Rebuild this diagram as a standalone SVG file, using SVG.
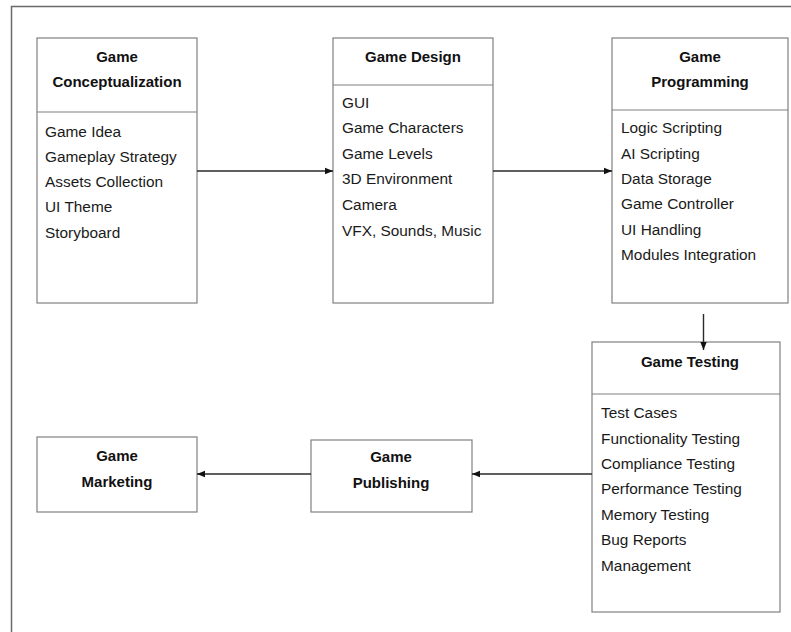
<svg xmlns="http://www.w3.org/2000/svg" width="791" height="632" viewBox="0 0 791 632">
  <style>
    .box { fill: #ffffff; stroke: #808080; stroke-width: 1.2; }
    .div { stroke: #808080; stroke-width: 1.2; }
    .frame { fill: none; stroke: #6a6a6a; stroke-width: 1.5; }
    .title { font-family: "Liberation Sans", Arial, sans-serif; font-size: 15px; font-weight: bold; fill: #111; text-anchor: middle; }
    .item { font-family: "Liberation Sans", Arial, sans-serif; font-size: 15.4px; fill: #1a1a1a; }
    .conn { stroke: #2a2a2a; stroke-width: 1.4; fill: none; marker-end: url(#arrow); }
  </style>
  <defs>
    <marker id="arrow" viewBox="0 0 10 10" refX="10" refY="5" markerUnits="userSpaceOnUse" markerWidth="8" markerHeight="8" orient="auto">
      <path d="M0,1 L10,5 L0,9 Z" fill="#111"/>
    </marker>
  </defs>

  <rect width="791" height="632" fill="#ffffff"/>
  <!-- outer frame (runs off the right and bottom edges) -->
  <rect class="frame" x="11.5" y="6.5" width="790" height="640"/>

  <g id="conceptualization">
    <rect class="box" x="37" y="38" width="160" height="265"/>
    <line class="div" x1="37" y1="112" x2="197" y2="112"/>
    <text class="title" x="117" y="62">Game</text>
    <text class="title" x="117" y="87">Conceptualization</text>
    <text class="item" x="45" y="137">Game Idea</text>
    <text class="item" x="45" y="162">Gameplay Strategy</text>
    <text class="item" x="45" y="187">Assets Collection</text>
    <text class="item" x="45" y="212">UI Theme</text>
    <text class="item" x="45" y="238">Storyboard</text>
  </g>

  <g id="design">
    <rect class="box" x="333" y="38" width="160" height="265"/>
    <line class="div" x1="333" y1="85" x2="493" y2="85"/>
    <text class="title" x="413" y="62">Game Design</text>
    <text class="item" x="342" y="108">GUI</text>
    <text class="item" x="342" y="133">Game Characters</text>
    <text class="item" x="342" y="159">Game Levels</text>
    <text class="item" x="342" y="184">3D Environment</text>
    <text class="item" x="342" y="210">Camera</text>
    <text class="item" x="342" y="236">VFX, Sounds, Music</text>
  </g>

  <g id="programming">
    <rect class="box" x="612" y="38" width="176" height="265"/>
    <line class="div" x1="612" y1="110" x2="788" y2="110"/>
    <text class="title" x="700" y="62">Game</text>
    <text class="title" x="700" y="87">Programming</text>
    <text class="item" x="621" y="133">Logic Scripting</text>
    <text class="item" x="621" y="159">AI Scripting</text>
    <text class="item" x="621" y="184">Data Storage</text>
    <text class="item" x="621" y="209">Game Controller</text>
    <text class="item" x="621" y="235">UI Handling</text>
    <text class="item" x="621" y="260">Modules Integration</text>
  </g>

  <g id="testing">
    <rect class="box" x="592" y="342" width="188" height="270"/>
    <line class="div" x1="592" y1="394" x2="780" y2="394"/>
    <text class="title" x="690" y="367">Game Testing</text>
    <text class="item" x="601" y="418">Test Cases</text>
    <text class="item" x="601" y="444">Functionality Testing</text>
    <text class="item" x="601" y="469">Compliance Testing</text>
    <text class="item" x="601" y="494">Performance Testing</text>
    <text class="item" x="601" y="520">Memory Testing</text>
    <text class="item" x="601" y="545">Bug Reports</text>
    <text class="item" x="601" y="571">Management</text>
  </g>

  <g id="publishing">
    <rect class="box" x="311" y="440" width="161" height="72"/>
    <text class="title" x="391" y="462">Game</text>
    <text class="title" x="391" y="488">Publishing</text>
  </g>

  <g id="marketing">
    <rect class="box" x="37" y="437" width="160" height="75"/>
    <text class="title" x="117" y="461">Game</text>
    <text class="title" x="117" y="487">Marketing</text>
  </g>

  <g id="connectors">
    <line class="conn" x1="197" y1="171" x2="333" y2="171"/>
    <line class="conn" x1="493" y1="171" x2="612" y2="171"/>
    <line class="conn" x1="703.5" y1="314" x2="703.5" y2="350"/>
    <line class="conn" x1="592" y1="474" x2="472" y2="474"/>
    <line class="conn" x1="311" y1="474" x2="197" y2="474"/>
  </g>
</svg>
